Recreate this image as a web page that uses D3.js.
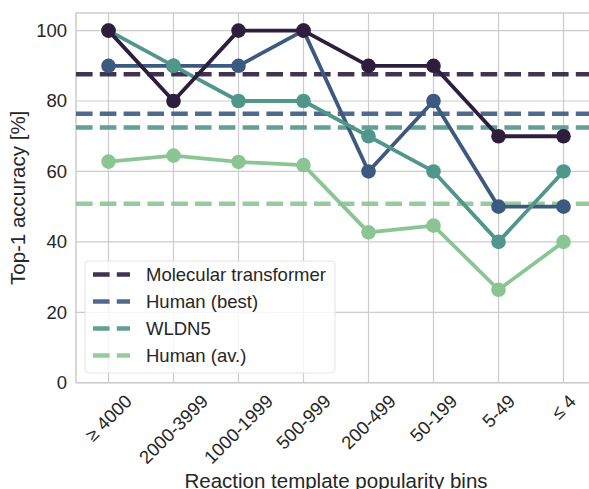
<!DOCTYPE html>
<html>
<head>
<meta charset="utf-8">
<script src="https://cdn.jsdelivr.net/npm/d3@7"></script>
<style>
  body { margin: 0; background: #fff; }
  svg { display: block; font-family: "Liberation Sans", Arial, sans-serif; }
</style>
</head>
<body>
<div id="chart"></div>
<script>
// bins along the x axis
var bins = ["\u2265 4000", "2000-3999", "1000-1999", "500-999", "200-499", "50-199", "5-49", "\u2264 4"];

// per-bin accuracy for each model
var transformer = [100, 80, 100, 100, 90, 90, 70, 70];
var humanBest = [90, 90, 90, 100, 60, 80, 50, 50];
var wldn5 = [100, 90, 80, 80, 70, 60, 40, 60];
var humanAv = [62.8, 64.5, 62.7, 61.8, 42.7, 44.6, 26.4, 40];

// overall accuracy (dashed lines)
var seriesNames = ["Molecular transformer", "Human (best)", "WLDN5", "Human (av.)"];
var overall = [87.6, 76.4, 72.5, 50.8];
var yTicks = [0, 20, 40, 60, 80, 100];

var colors = ["#2d1e3e", "#3c5a80", "#51968b", "#8cc594"];

var width = 589, height = 489;
var plotLeft = 76, plotTop = 13, plotRight = 596, plotBottom = 382.7;

var svg = d3.select("#chart").append("svg")
    .attr("width", width)
    .attr("height", height);

var x = d3.scalePoint().domain(bins).range([plotLeft, plotRight]).padding(0.5);
var y = d3.scaleLinear().domain([0, 105]).range([plotBottom, plotTop]);

// grid
svg.append("g").selectAll("line")
    .data(yTicks)
    .enter().append("line")
    .attr("x1", plotLeft).attr("x2", plotRight)
    .attr("y1", function (d) { return y(d); })
    .attr("y2", function (d) { return y(d); })
    .attr("stroke", "#cccccc").attr("stroke-width", 1.2);

svg.append("g").selectAll("line")
    .data(bins)
    .enter().append("line")
    .attr("x1", function (d) { return x(d); })
    .attr("x2", function (d) { return x(d); })
    .attr("y1", plotTop).attr("y2", plotBottom)
    .attr("stroke", "#cccccc").attr("stroke-width", 1.2);

// frame
svg.append("rect")
    .attr("x", plotLeft).attr("y", plotTop)
    .attr("width", plotRight - plotLeft).attr("height", plotBottom - plotTop)
    .attr("fill", "none").attr("stroke", "#cccccc").attr("stroke-width", 1.5);

// y tick labels
var yAxis = d3.axisLeft(y).tickValues(yTicks).tickSize(0).tickPadding(9);
var yg = svg.append("g").attr("transform", "translate(" + plotLeft + ",0)").call(yAxis);
yg.select(".domain").remove();
yg.selectAll("text").attr("font-size", "18.5px").attr("fill", "#262626")
    .attr("font-family", "Liberation Sans, Arial, sans-serif");

// x tick labels, rotated 45 and centred under each tick
var xl = svg.append("g").selectAll("text")
    .data(bins)
    .enter().append("text")
    .attr("font-size", "18.5px")
    .attr("fill", "#262626")
    .attr("text-anchor", "middle")
    .attr("dominant-baseline", "central")
    .text(function (d) { return d; });

xl.each(function (d) {
    var w = this.getComputedTextLength();
    var h = 18.5 * 0.95;
    var cy = plotBottom + 9 + (w + h) * Math.SQRT1_2 / 2;
    d3.select(this)
        .attr("x", x(d)).attr("y", cy)
        .attr("transform", "rotate(-45," + x(d) + "," + cy + ")");
});

// axis titles
svg.append("text")
    .attr("x", (plotLeft + plotRight) / 2).attr("y", 488)
    .attr("text-anchor", "middle")
    .attr("font-size", "20.5px").attr("fill", "#262626")
    .text("Reaction template popularity bins");

svg.append("text")
    .attr("transform", "translate(25," + (plotTop + plotBottom) / 2 + ") rotate(-90)")
    .attr("text-anchor", "middle")
    .attr("font-size", "20.5px").attr("fill", "#262626")
    .text("Top-1 accuracy [%]");

// dashed overall lines
svg.append("g").selectAll("line")
    .data(overall)
    .enter().append("line")
    .attr("x1", plotLeft).attr("x2", plotRight)
    .attr("y1", function (d) { return y(d); })
    .attr("y2", function (d) { return y(d); })
    .attr("stroke", function (d, i) { return colors[i]; })
    .attr("stroke-opacity", 0.9)
    .attr("stroke-width", 4.5)
    .attr("stroke-dasharray", "16.6 7.2");

// solid lines with markers, drawn light first so the dark one sits on top
var series = [
    { values: humanAv, color: colors[3] },
    { values: humanBest, color: colors[1] },
    { values: wldn5, color: colors[2] },
    { values: transformer, color: colors[0] }
];

var line = d3.line()
    .x(function (d, i) { return x(bins[i]); })
    .y(function (d) { return y(d); });

series.forEach(function (s) {
    var g = svg.append("g");
    g.append("path")
        .datum(s.values)
        .attr("d", line)
        .attr("fill", "none")
        .attr("stroke", s.color)
        .attr("stroke-width", 3.8)
        .attr("stroke-linejoin", "round");
    g.selectAll("circle")
        .data(s.values)
        .enter().append("circle")
        .attr("cx", function (d, i) { return x(bins[i]); })
        .attr("cy", function (d) { return y(d); })
        .attr("r", 7.3)
        .attr("fill", s.color);
});

// legend
var legend = svg.append("g");
legend.append("rect")
    .attr("x", 85).attr("y", 261)
    .attr("width", 250).attr("height", 112)
    .attr("rx", 4)
    .attr("fill", "#ffffff").attr("fill-opacity", 0.8)
    .attr("stroke", "#e3e3e3").attr("stroke-width", 1);

var items = legend.selectAll("g.item")
    .data(seriesNames)
    .enter().append("g")
    .attr("transform", function (d, i) { return "translate(0," + (274.5 + i * 27) + ")"; });

items.append("line")
    .attr("x1", 93).attr("x2", 130)
    .attr("stroke", function (d, i) { return colors[i]; })
    .attr("stroke-opacity", 0.9)
    .attr("stroke-width", 4.5)
    .attr("stroke-dasharray", "16.6 7.2");

items.append("text")
    .attr("x", 146).attr("y", 0)
    .attr("dy", "0.35em")
    .attr("font-size", "18.5px").attr("fill", "#262626")
    .text(function (d) { return d; });
</script>
</body>
</html>
